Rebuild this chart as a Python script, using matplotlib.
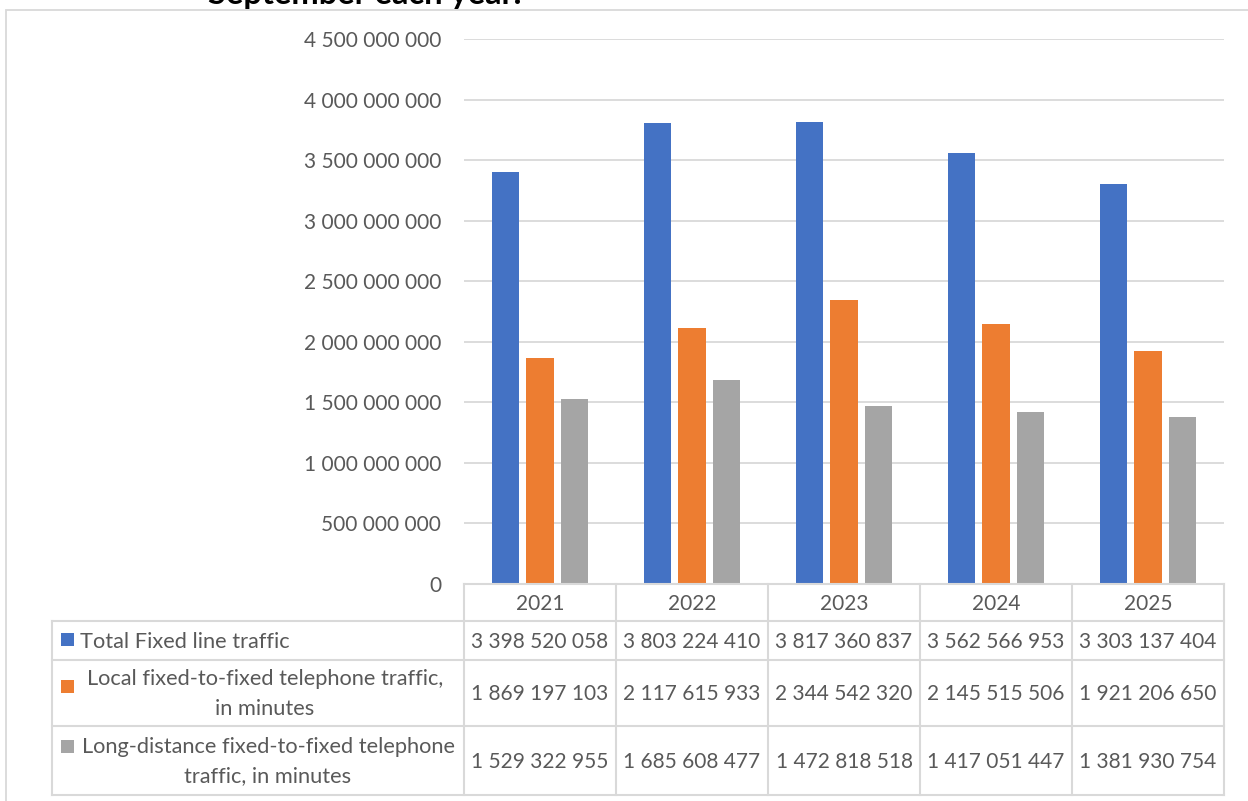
import matplotlib
matplotlib.use("Agg")
import matplotlib.pyplot as plt
from matplotlib.patches import Rectangle
from matplotlib.lines import Line2D
from matplotlib.ticker import FuncFormatter, MultipleLocator

# ---- data ----
years = ["2021", "2022", "2023", "2024", "2025"]
series_names = [
    "Total Fixed line traffic",
    "Local fixed-to-fixed telephone traffic,\nin minutes",
    "Long-distance fixed-to-fixed telephone\ntraffic, in minutes",
]
total_traffic = [3398520058, 3803224410, 3817360837, 3562566953, 3303137404]
local_traffic = [1869197103, 2117615933, 2344542320, 2145515506, 1921206650]
long_distance_traffic = [1529322955, 1685608477, 1472818518, 1417051447, 1381930754]
series_values = [total_traffic, local_traffic, long_distance_traffic]
series_colors = ["#4472C4", "#ED7D31", "#A5A5A5"]
title_text = "September each year."

W, H = 1248, 801
DPI = 100
TEXT = "#595959"
GRID = "#D9D9D9"
FONT = "Lato"

plt.rcParams["font.family"] = [FONT, "DejaVu Sans"]

fig = plt.figure(figsize=(W / DPI, H / DPI), dpi=DPI)


def fx(px):
    return px / W


def fy(py):
    return 1 - py / H


def space_fmt(v):
    return f"{int(round(v)):,}".replace(",", " ")


# outer chart border
fig.add_artist(Rectangle((fx(6), fy(820)), fx(1260) - fx(6), fy(10) - fy(820),
                         transform=fig.transFigure, fill=False,
                         edgecolor=GRID, linewidth=1.3))

# title (its upper part runs past the top edge of the canvas)
fig.text(fx(365), fy(4), title_text, ha="center", va="baseline",
         fontsize=23.5, fontweight="bold", color="#000000")

# ---- plot area ----
left, right, top, bottom = 464, 1224, 39, 584
ax = fig.add_axes([fx(left), fy(bottom), fx(right - left), fy(top) - fy(bottom)])
n = len(years)
bar_w = 0.178
step = 0.224
for i, (vals, col) in enumerate(zip(series_values, series_colors)):
    xs = [k + (i - 1) * step for k in range(n)]
    ax.bar(xs, vals, width=bar_w, color=col, zorder=3)

ax.set_xlim(-0.5, n - 0.5)
ax.set_ylim(0, 4.5e9)
ax.yaxis.set_major_locator(MultipleLocator(5e8))
ax.yaxis.set_major_formatter(FuncFormatter(lambda v, p: space_fmt(v)))
ax.grid(axis="y", color=GRID, linewidth=1.3, zorder=0)
ax.set_xticks([])
for s in ax.spines.values():
    s.set_visible(False)
ax.tick_params(axis="y", length=0, pad=16.5, labelsize=15, labelcolor=TEXT)
ax.set_facecolor("none")

# ---- data table ----
col_edges = [464, 616, 768, 920, 1072, 1224]
row_edges = [584, 621, 660, 726, 795]
label_left = 52
lw = 1.5


def hline(y, x0, x1):
    fig.add_artist(Line2D([fx(x0), fx(x1)], [fy(y), fy(y)], color=GRID,
                          linewidth=lw, transform=fig.transFigure))


def vline(x, y0, y1):
    fig.add_artist(Line2D([fx(x), fx(x)], [fy(y0), fy(y1)], color=GRID,
                          linewidth=lw, transform=fig.transFigure))


hline(row_edges[0], col_edges[0], col_edges[-1])
for y in row_edges[1:]:
    hline(y, label_left, col_edges[-1])
for x in col_edges:
    vline(x, row_edges[0], row_edges[-1])
vline(label_left, row_edges[1], row_edges[-1])

# header with years
for j, yr in enumerate(years):
    cx = (col_edges[j] + col_edges[j + 1]) / 2
    fig.text(fx(cx), fy((row_edges[0] + row_edges[1]) / 2 + 1), yr,
             ha="center", va="center", fontsize=15, color=TEXT)

# series rows: (text x, alignment, key top)
label_pos = [(80, "left", 633), (265, "center", 680), (268, "center", 740)]
key_size = 13
for i, (name, vals, col) in enumerate(zip(series_names, series_values, series_colors)):
    y0, y1 = row_edges[i + 1], row_edges[i + 2]
    cy = (y0 + y1) / 2
    lx, ha, key_top = label_pos[i]
    fig.text(fx(lx), fy(cy + 1), name, ha=ha, va="center", fontsize=15.7,
             color=TEXT, multialignment="center", linespacing=1.6)
    fig.add_artist(Rectangle((fx(61), fy(key_top + key_size)), fx(key_size),
                             fy(0) - fy(key_size),
                             transform=fig.transFigure, facecolor=col,
                             edgecolor="none"))
    for j, v in enumerate(vals):
        cx = (col_edges[j] + col_edges[j + 1]) / 2
        fig.text(fx(cx), fy(cy + 1), space_fmt(v), ha="center", va="center",
                 fontsize=15, color=TEXT)

fig.savefig("out.png", dpi=DPI)
